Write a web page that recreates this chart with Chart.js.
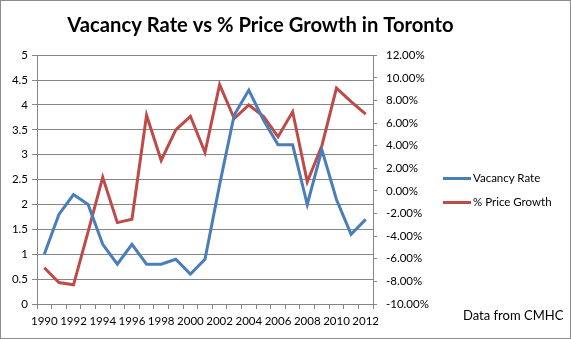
<!DOCTYPE html>
<html>
<head>
<meta charset="utf-8">
<script src="https://cdn.jsdelivr.net/npm/chart.js@4.4.1/dist/chart.umd.min.js"></script>
<style>
  html, body { margin: 0; padding: 0; background: #fff; }
  #wrap { position: relative; width: 571px; height: 339px; font-family: Lato, sans-serif; }
  #c { position: absolute; left: 0; top: 0; }
  .leg { position: absolute; font-size: 11.5px; color: #000; white-space: nowrap; line-height: 14px; }
  .leg i { display: inline-block; width: 28px; height: 3px; vertical-align: middle; margin-right: 2px; position: relative; top: -1px; }
  #src { position: absolute; left: 463px; top: 307px; font-size: 13px; color: #000; white-space: nowrap; }
</style>
</head>
<body>
<div id="wrap">
  <canvas id="c" width="571" height="339"></canvas>
  <div class="leg" style="left:443px; top:171px;"><i style="background:#4a7ebb"></i>Vacancy Rate</div>
  <div class="leg" style="left:443px; top:195px;"><i style="background:#be4b48"></i>% Price Growth</div>
  <div id="src">Data from CMHC</div>
</div>
<script>
/* ---------- datos ---------- */
const years = ["1990","1991","1992","1993","1994","1995","1996","1997","1998","1999","2000",
               "2001","2002","2003","2004","2005","2006","2007","2008","2009","2010","2011","2012"];

// tasa de desocupación (eje izquierdo)
const vacancy = [1.0, 1.8, 2.2, 2.0, 1.2, 0.8, 1.2, 0.8, 0.8, 0.9, 0.6,
                 0.9, 2.4, 3.8, 4.3, 3.7, 3.2, 3.2, 2.0, 3.1, 2.1, 1.4, 1.7];

// crecimiento de precio en % (eje derecho)
const priceGrowth = [-6.8, -8.1, -8.3, -3.6, 1.2, -2.8, -2.5, 6.7, 2.7, 5.4, 6.6,
                     3.4, 9.4, 6.4, 7.6, 6.6, 4.8, 7.0, 0.8, 4.0, 9.1, 7.9, 6.8];

const leftTicks = [0, 0.5, 1, 1.5, 2, 2.5, 3, 3.5, 4, 4.5, 5];
const rightTicks = [-10, -8, -6, -4, -2, 0, 2, 4, 6, 8, 10, 12];

const GRID = "#868686";
const tickFont = { family: "Lato", size: 11.5 };

// borde exterior del área del gráfico
const borderPlugin = {
    id: "outerBorder",
    afterDraw(chart) {
        const ctx = chart.ctx;
        ctx.save();
        ctx.strokeStyle = "#8c8c8c";
        ctx.lineWidth = 1;
        ctx.strokeRect(0.5, 0.5, chart.width - 1, chart.height - 1);
        ctx.restore();
    }
};

new Chart(document.getElementById("c"), {
    type: "line",
    data: {
        labels: years,
        datasets: [
            {
                label: "Vacancy Rate",
                data: vacancy,
                yAxisID: "yL",
                borderColor: "#4a7ebb",
                borderWidth: 3,
                pointRadius: 0,
                tension: 0
            },
            {
                label: "% Price Growth",
                data: priceGrowth,
                yAxisID: "yR",
                borderColor: "#be4b48",
                borderWidth: 3,
                pointRadius: 0,
                tension: 0
            }
        ]
    },
    options: {
        responsive: false,
        animation: false,
        // el padding derecho desplaza el título hacia la izquierda como en el original
        layout: { padding: { left: 0, right: 50, top: 0, bottom: 0 } },
        plugins: {
            legend: { display: false },
            tooltip: { enabled: false },
            title: {
                display: true,
                text: "Vacancy Rate vs % Price Growth in Toronto",
                color: "#000",
                font: { family: "Lato", size: 20.2, weight: "bold" },
                padding: { top: 13, bottom: 18 }
            }
        },
        scales: {
            x: {
                offset: true,
                grid: { offset: true, drawOnChartArea: false, drawTicks: true, tickLength: 5, color: GRID },
                border: { color: GRID },
                ticks: {
                    autoSkip: false,
                    maxRotation: 0,
                    color: "#000",
                    font: tickFont,
                    padding: 5,
                    callback: (v, i) => (i % 2 === 0 ? years[i] : "")
                },
                afterFit(s) { s.height = 35; }
            },
            yL: {
                position: "left",
                min: 0,
                max: 5,
                afterBuildTicks(s) { s.ticks = leftTicks.map(v => ({ value: v })); },
                grid: { color: GRID, tickLength: 5 },
                border: { color: GRID },
                ticks: { color: "#000", font: tickFont, padding: 4, callback: v => String(v) },
                afterFit(s) { s.width = 37; }
            },
            yR: {
                position: "right",
                min: -10,
                max: 12,
                afterBuildTicks(s) { s.ticks = rightTicks.map(v => ({ value: v })); },
                grid: { drawOnChartArea: false, color: GRID, tickLength: 4 },
                border: { color: GRID },
                ticks: { color: "#000", font: tickFont, padding: 9, callback: v => v.toFixed(2) + "%" },
                afterFit(s) { s.width = 148; }
            }
        }
    },
    plugins: [borderPlugin]
});
</script>
</body>
</html>
